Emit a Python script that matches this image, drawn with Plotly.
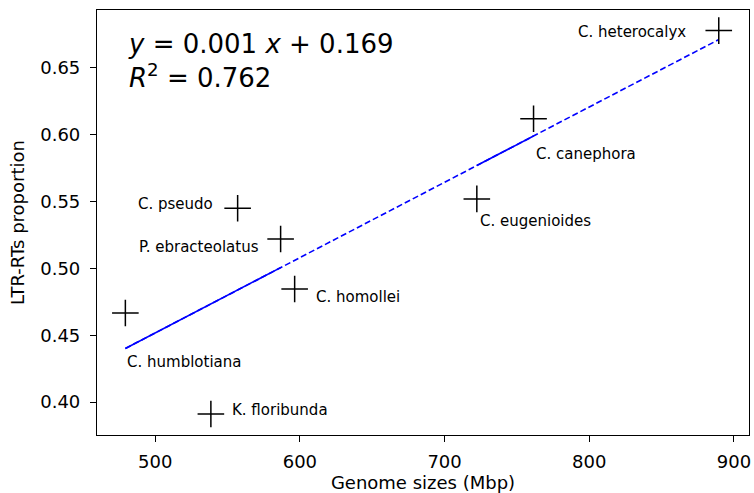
import numpy as np
import plotly.graph_objects as go

species = ["C. heterocalyx", "C. canephora", "C. eugenioides", "C. pseudo",
           "P. ebracteolatus", "C. homollei", "C. humblotiana", "K. floribunda"]
genome_size = [889.5, 761.5, 722.3, 557.0, 586.7, 596.4, 479.4, 538.5]
ltr_prop = [0.678, 0.612, 0.552, 0.545, 0.522, 0.4846, 0.4666, 0.391]

# label offsets (pixels) and anchor
label_xanchor = ["right", "left", "left", "right", "right", "left", "left", "left"]
label_dx = [-31, 0, 1, -23, -20, 19, 0, 19]
label_dy = [-1, -35, -22, 4, -8, -8, -49, 4]

x = np.array(genome_size)
y = np.array(ltr_prop)
slope, intercept = np.polyfit(x, y, 1)

x_line = np.array([x.min(), x.max()])
solid_segments = [(479.4, 586.7), (722.3, 761.5)]

fig = go.Figure()
fig.add_trace(go.Scatter(x=x_line, y=slope * x_line + intercept, mode="lines",
                         line=dict(color="blue", width=1.6, dash="6px,3px"),
                         showlegend=False, hoverinfo="skip"))
for a, b in solid_segments:
    xs = np.array([a, b])
    fig.add_trace(go.Scatter(x=xs, y=slope * xs + intercept, mode="lines",
                             line=dict(color="blue", width=1.6),
                             showlegend=False, hoverinfo="skip"))
fig.add_trace(go.Scatter(x=genome_size, y=ltr_prop, mode="markers",
                         marker=dict(symbol="cross-thin", size=19,
                                     line=dict(color="black", width=1.5)),
                         showlegend=False))

for name, gx, gy, xa, dx, dy in zip(species, genome_size, ltr_prop,
                                    label_xanchor, label_dx, label_dy):
    fig.add_annotation(x=gx, y=gy, text=name, showarrow=False, xanchor=xa,
                       yanchor="middle", xshift=dx, yshift=dy,
                       font=dict(size=15, color="black"))

fig.add_annotation(xref="paper", yref="paper", x=0.045, y=0.96,
                   xanchor="left", yanchor="top", align="left", showarrow=False,
                   text="<i>y</i> = 0.001 <i>x</i> + 0.169<br><i>R</i><sup>2</sup> = 0.762",
                   font=dict(size=26, color="black"))

axis_common = dict(showline=True, mirror=True, linecolor="black", linewidth=1.2,
                   ticks="outside", ticklen=6, tickwidth=1.2, tickcolor="black",
                   showgrid=False, zeroline=False, ticklabeloverflow="allow",
                   automargin=False,
                   tickfont=dict(size=18, color="black"))

fig.update_layout(
    width=754, height=493,
    margin=dict(l=97, r=5, t=10, b=58),
    paper_bgcolor="white", plot_bgcolor="white",
    font=dict(family="DejaVu Sans", color="black"),
    xaxis=dict(range=[459.8, 910.4], tickvals=[500, 600, 700, 800, 900],
               ticklabelstandoff=4,
               title=dict(text="Genome sizes (Mbp)", font=dict(size=18), standoff=7),
               **axis_common),
    yaxis=dict(range=[0.3753, 0.6934], tickvals=[0.40, 0.45, 0.50, 0.55, 0.60, 0.65],
               tickformat=".2f", ticklabelstandoff=6,
               title=dict(text="LTR-RTs proportion", font=dict(size=18), standoff=10),
               **axis_common),
)

fig.write_html("out.html")
